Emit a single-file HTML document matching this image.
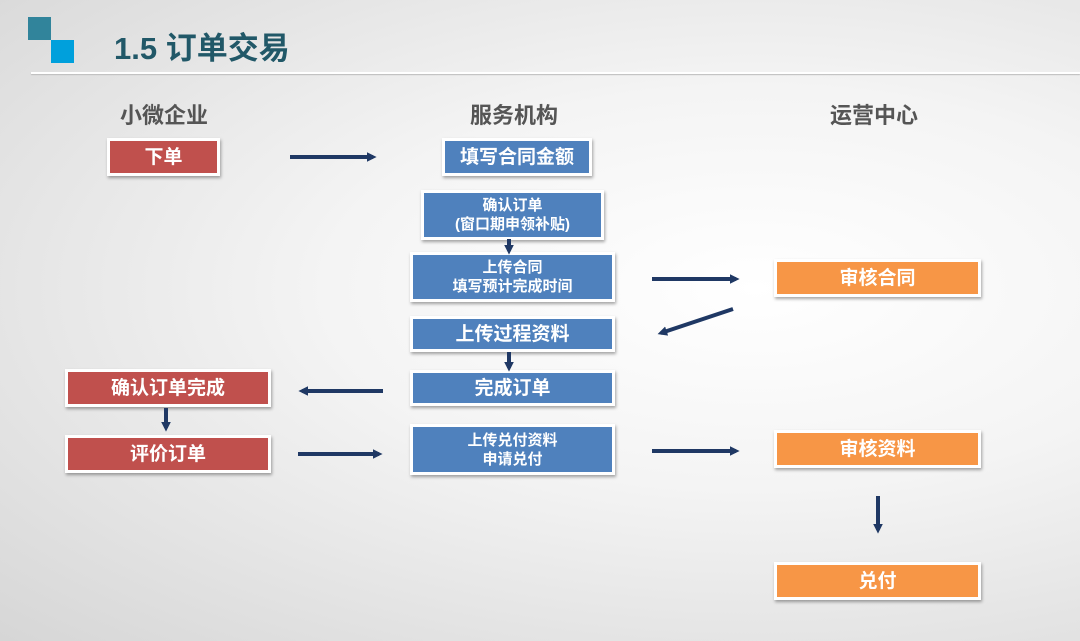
<!DOCTYPE html>
<html><head><meta charset="utf-8"><style>
body{margin:0;width:1080px;height:641px;overflow:hidden;font-family:"Liberation Sans","Noto Sans CJK SC",sans-serif;
background:radial-gradient(ellipse at 70% 45%,#ffffff 0%,#f4f4f4 40%,#d6d6d6 100%);position:relative}
.b{position:absolute;box-sizing:border-box;border:3px solid #fff;box-shadow:1px 2px 3px rgba(0,0,0,.35);color:#fff;font-weight:bold;display:flex;align-items:center;justify-content:center;text-align:center;line-height:1.25;padding-top:2px}
.r{background:#c0504d;font-size:19px}.bl{background:#4f81bd;font-size:19px}.o{background:#f79646;font-size:19px}
.s{font-size:15px}
.h{position:absolute;font-size:22px;font-weight:bold;color:#555}
</style></head><body>
<div style="position:absolute;left:28px;top:17px;width:23px;height:23px;background:#31849b"></div>
<div style="position:absolute;left:51px;top:40px;width:23px;height:23px;background:#00a0dc"></div>
<div style="position:absolute;left:114px;top:23px;font-size:31px;font-weight:bold;color:#215868">1.5 订单交易</div>
<div style="position:absolute;left:31px;top:72px;width:1049px;height:2px;background:#fff;box-shadow:0 1px 1px #bbb"></div>
<div class="h" style="left:120px;top:98px">小微企业</div>
<div class="h" style="left:470px;top:98px">服务机构</div>
<div class="h" style="left:830px;top:98px">运营中心</div>

<div class="b r" style="left:107px;top:138px;width:113px;height:38px">下单</div>
<div class="b bl" style="left:442px;top:138px;width:150px;height:38px">填写合同金额</div>
<div class="b bl s" style="left:421px;top:190px;width:183px;height:50px">确认订单<br>(窗口期申领补贴)</div>
<div class="b bl s" style="left:410px;top:252px;width:205px;height:50px">上传合同<br>填写预计完成时间</div>
<div class="b bl" style="left:410px;top:316px;width:205px;height:36px">上传过程资料</div>
<div class="b bl" style="left:410px;top:370px;width:205px;height:36px">完成订单</div>
<div class="b bl s" style="left:410px;top:424px;width:205px;height:51px">上传兑付资料<br>申请兑付</div>
<div class="b r" style="left:65px;top:369px;width:206px;height:38px">确认订单完成</div>
<div class="b r" style="left:65px;top:435px;width:206px;height:38px">评价订单</div>
<div class="b o" style="left:774px;top:259px;width:207px;height:38px">审核合同</div>
<div class="b o" style="left:774px;top:430px;width:207px;height:38px">审核资料</div>
<div class="b o" style="left:774px;top:562px;width:207px;height:38px">兑付</div>

<svg width="1080" height="641" style="position:absolute;left:0;top:0">
<defs><marker id="a" markerWidth="3" markerHeight="3" refX="1.5" refY="1.5" orient="auto"><path d="M0,0.3 L2.4,1.5 L0,2.7Z" fill="#1f3864"/></marker></defs>
<g stroke="#1f3864" stroke-width="4" marker-end="url(#a)" fill="none">
<line x1="290" y1="157" x2="373" y2="157"/>
<line x1="652" y1="279" x2="736" y2="279"/>
<line x1="733" y1="309" x2="661" y2="333"/>
<line x1="383" y1="391" x2="302" y2="391"/>
<line x1="298" y1="454" x2="379" y2="454"/>
<line x1="652" y1="451" x2="736" y2="451"/>
<line x1="878" y1="496" x2="878" y2="530"/>
<line x1="509" y1="239" x2="509" y2="251"/>
<line x1="509" y1="352" x2="509" y2="368"/>
<line x1="166" y1="408" x2="166" y2="428"/>
</g></svg>
</body></html>
